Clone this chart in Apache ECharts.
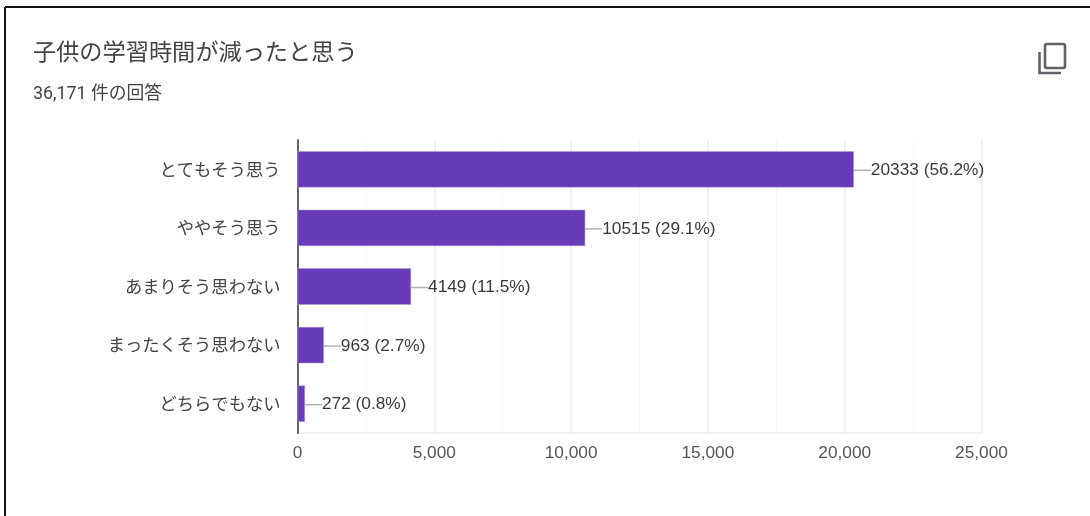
<!DOCTYPE html>
<html>
<head>
<meta charset="utf-8">
<style>html,body{margin:0;padding:0;background:#fff}#c{width:1090px;height:516px}</style>
<script src="https://cdn.jsdelivr.net/npm/echarts@6/dist/echarts.min.js"></script>
</head>
<body>
<div id="c"></div>
<script>
const categories = ['とてもそう思う','ややそう思う','あまりそう思わない','まったくそう思わない','どちらでもない'];
const counts = [20333,10515,4149,963,272];
const percents = ['56.2%','29.1%','11.5%','2.7%','0.8%'];
const titleText = '子供の学習時間が減ったと思う';
const subtitleText = '36,171 件の回答';

const font = 'Arial, "Liberation Sans", "Noto Sans CJK JP", sans-serif';
const chart = echarts.init(document.getElementById('c'), null, {renderer:'canvas'});
chart.setOption({
  animation:false,
  backgroundColor:'#fff',
  title:[
    {text:titleText,left:28,top:38,textStyle:{fontFamily:'Roboto, "Noto Sans CJK JP", sans-serif',fontSize:23.2,fontWeight:'normal',color:'#444'}},
    {text:subtitleText,left:28,top:81,textStyle:{fontFamily:'Roboto, "Noto Sans CJK JP", sans-serif',fontSize:17.8,fontWeight:'normal',color:'#444'}}
  ],
  grid:{left:297.5,top:140,width:684,height:293,containLabel:false},
  xAxis:{
    type:'value',min:0,max:25000,interval:5000,
    axisLine:{show:false},axisTick:{show:false},
    axisLabel:{margin:12,fontFamily:font,fontSize:17.3,color:'#555',formatter:v=>v.toLocaleString('en-US'),hideOverlap:false},
    splitLine:{show:true,lineStyle:{color:'#ececec',width:1.5}},
    minorTick:{show:false,splitNumber:2},
    minorSplitLine:{show:true,lineStyle:{color:'#f5f5f5',width:1}}
  },
  yAxis:{
    type:'category',inverse:true,data:categories,
    axisLine:{show:true,onZero:false,lineStyle:{color:'#666',width:2}},
    axisTick:{show:false},
    axisLabel:{margin:17,verticalAlign:'top',lineHeight:4,fontFamily:'Roboto, "Noto Sans CJK JP", sans-serif',fontSize:17.3,color:'#444'},
    splitLine:{show:false}
  },
  series:[{
    type:'bar',data:counts,barCategoryGap:'38%',
    itemStyle:{color:'#673ab7',borderColor:'#b39ddb',borderWidth:0.5},
    label:{
      show:true,position:'right',distance:0,
      fontFamily:font,fontSize:17.3,color:'#3a3a3a',
      formatter:p=>p.value+' ('+percents[p.dataIndex]+')'
    },
    labelLayout:{dx:17,dy:1},
    labelLine:{show:true,lineStyle:{color:'#b0b0b0',width:1.5}}
  }],
  graphic:[
    {type:'line',shape:{x1:5,y1:7,x2:1090,y2:7},style:{stroke:'#111',lineWidth:2}},
    {type:'line',shape:{x1:5,y1:7,x2:5,y2:516},style:{stroke:'#111',lineWidth:2}},
    {type:'rect',shape:{x:1045,y:44,width:20,height:24,r:2},style:{fill:'none',stroke:'#5f6368',lineWidth:2.6}},
    {type:'polyline',shape:{points:[[1039.5,52],[1039.5,73],[1061,73]]},style:{fill:'none',stroke:'#5f6368',lineWidth:2.6}},
    {type:'line',shape:{x1:297.5,y1:433,x2:981.5,y2:433},style:{stroke:'#ececec',lineWidth:1.5},z:-1}
  ]
});
</script>
</body>
</html>
